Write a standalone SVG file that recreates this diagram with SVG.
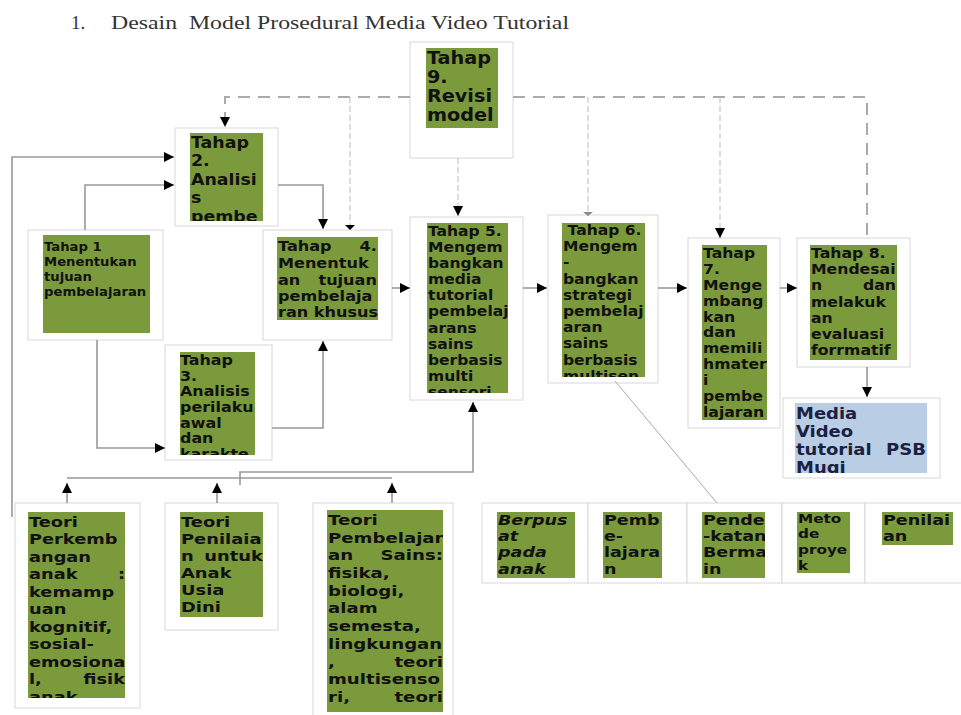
<svg xmlns="http://www.w3.org/2000/svg" width="961" height="715" viewBox="0 0 961 715">
<style>
.ob{fill:#fff;stroke:#d8d8d8;stroke-width:1}
.gr{fill:#7a9a3c}
.bl{fill:#b9cde5}
.t{font-family:"DejaVu Sans","Noto Sans",sans-serif;font-weight:bold;fill:#111}
.it{font-style:italic}
.cn{fill:none;stroke:#999;stroke-width:1.6}
.ds{fill:none;stroke:#aaa;stroke-width:2;stroke-dasharray:12 8}
.th{fill:none;stroke:#bbb;stroke-width:1;stroke-dasharray:6 3}
.title{font-family:"Liberation Serif","Times New Roman",serif;font-size:19px;fill:#333}
</style>
<defs>
<marker id="ah" viewBox="0 0 10 10" refX="10" refY="5" markerWidth="10" markerHeight="10" markerUnits="userSpaceOnUse" orient="auto"><path d="M0,0 L10,5 L0,10 z" fill="#000"/></marker>
<clipPath id="k9"><rect x="426" y="48" width="72" height="80"/></clipPath>
<clipPath id="k2"><rect x="190" y="133" width="73" height="88"/></clipPath>
<clipPath id="k1"><rect x="43" y="235" width="107" height="98"/></clipPath>
<clipPath id="k4"><rect x="277" y="237" width="101" height="83"/></clipPath>
<clipPath id="k3"><rect x="180" y="352" width="75" height="103"/></clipPath>
<clipPath id="k5"><rect x="427" y="223" width="81" height="170"/></clipPath>
<clipPath id="k6"><rect x="562" y="223" width="83" height="154"/></clipPath>
<clipPath id="k7"><rect x="702" y="245" width="65" height="175"/></clipPath>
<clipPath id="k8"><rect x="810" y="245" width="87" height="115"/></clipPath>
<clipPath id="km"><rect x="795" y="403" width="132" height="70"/></clipPath>
<clipPath id="kp1"><rect x="28" y="512" width="97" height="186"/></clipPath>
<clipPath id="kp2"><rect x="180" y="512" width="83" height="105"/></clipPath>
<clipPath id="kp3"><rect x="327" y="510" width="116" height="202"/></clipPath>
<clipPath id="kb1"><rect x="497" y="512" width="78" height="66"/></clipPath>
<clipPath id="kb2"><rect x="603" y="512" width="59" height="66"/></clipPath>
<clipPath id="kb3"><rect x="702" y="512" width="63" height="66"/></clipPath>
<clipPath id="kb4"><rect x="797" y="512" width="53" height="61"/></clipPath>
<clipPath id="kb5"><rect x="882" y="512" width="71" height="33"/></clipPath>
</defs>
<rect width="961" height="715" fill="#fff"/>

<g id="title">
<text class="title" x="71" y="29">1.</text>
<text class="title" x="111" y="29" xml:space="preserve" textLength="458" lengthAdjust="spacingAndGlyphs">Desain  Model Prosedural Media Video Tutorial</text>
</g>

<g id="tahap9">
<rect class="ob" x="410" y="42" width="103" height="116"/>
<rect class="gr" x="426" y="48" width="72" height="80"/>
<g clip-path="url(#k9)"><text class="t" font-size="17.5" transform="matrix(1.1 0 0 1 -42.7 0)"><tspan x="427" y="64">Tahap</tspan><tspan x="427" y="83">9.</tspan><tspan x="427" y="102">Revisi</tspan><tspan x="427" y="121">model</tspan></text></g>
</g>

<g id="tahap2">
<rect class="ob" x="175" y="128" width="103" height="98"/>
<rect class="gr" x="190" y="133" width="73" height="88"/>
<g clip-path="url(#k2)"><text class="t" font-size="15" transform="matrix(1.16 0 0 1 -30.56 0)"><tspan x="191" y="148">Tahap</tspan><tspan x="191" y="166.5">2.</tspan><tspan x="191" y="185">Analisi</tspan><tspan x="191" y="203.5">s</tspan><tspan x="191" y="222">pembe</tspan></text></g>
</g>

<g id="tahap1">
<rect class="ob" x="28" y="230" width="135" height="110"/>
<rect class="gr" x="43" y="235" width="107" height="98"/>
<g clip-path="url(#k1)"><text class="t" font-size="12" transform="matrix(1.1 0 0 1 -4.4 0)"><tspan x="44" y="251">Tahap 1</tspan><tspan x="44" y="266">Menentukan</tspan><tspan x="44" y="281">tujuan</tspan><tspan x="44" y="296">pembelajaran</tspan></text></g>
</g>

<g id="tahap4">
<rect class="ob" x="263" y="230" width="129" height="110"/>
<rect class="gr" x="277" y="237" width="101" height="83"/>
<g clip-path="url(#k4)"><text class="t" font-size="14" transform="matrix(1.15 0 0 1 -41.7 0)"><tspan x="278" y="251">Tahap</tspan><tspan x="278" y="268">Menentuk</tspan><tspan x="278" y="285">an</tspan><tspan x="278" y="301">pembelaja</tspan><tspan x="278" y="317">ran khusus</tspan></text>
<text class="t" font-size="14" text-anchor="end" transform="matrix(1.15 0 0 1 -41.7 0)"><tspan x="364" y="251">4.</tspan><tspan x="364" y="285">tujuan</tspan></text></g>
</g>

<g id="tahap3">
<rect class="ob" x="165" y="345" width="107" height="115"/>
<rect class="gr" x="180" y="352" width="75" height="103"/>
<g clip-path="url(#k3)"><text class="t" font-size="13.5" transform="matrix(1.18 0 0 1 -32.4 0)"><tspan x="180" y="365">Tahap</tspan><tspan x="180" y="380.7">3.</tspan><tspan x="180" y="396.4">Analisis</tspan><tspan x="180" y="412.1">perilaku</tspan><tspan x="180" y="427.8">awal</tspan><tspan x="180" y="443.5">dan</tspan><tspan x="180" y="459.2">karakte</tspan></text></g>
</g>

<g id="tahap5">
<rect class="ob" x="410" y="217" width="113" height="183"/>
<rect class="gr" x="427" y="223" width="81" height="170"/>
<g clip-path="url(#k5)"><text class="t" font-size="13.5" transform="matrix(1.15 0 0 1 -64.2 0)"><tspan x="428" y="236">Tahap 5.</tspan><tspan x="428" y="252.1">Mengem</tspan><tspan x="428" y="268.2">bangkan</tspan><tspan x="428" y="284.3">media</tspan><tspan x="428" y="300.4">tutorial</tspan><tspan x="428" y="316.5">pembelaj</tspan><tspan x="428" y="332.6">arans</tspan><tspan x="428" y="348.7">sains</tspan><tspan x="428" y="364.8">berbasis</tspan><tspan x="428" y="380.9">multi</tspan><tspan x="428" y="397">sensori</tspan></text></g>
</g>

<g id="tahap6">
<rect class="ob" x="548" y="215" width="110" height="168"/>
<rect class="gr" x="562" y="223" width="83" height="154"/>
<g clip-path="url(#k6)"><text class="t" font-size="13.5" transform="matrix(1.15 0 0 1 -84.45 0)"><tspan x="567" y="235">Tahap 6.</tspan><tspan x="563" y="251.2">Mengem</tspan><tspan x="563" y="267.4">-</tspan><tspan x="563" y="283.6">bangkan</tspan><tspan x="563" y="299.8">strategi</tspan><tspan x="563" y="316">pembelaj</tspan><tspan x="563" y="332.2">aran</tspan><tspan x="563" y="348.4">sains</tspan><tspan x="563" y="364.6">berbasis</tspan><tspan x="563" y="380.8">multisen</tspan></text></g>
</g>

<g id="tahap7">
<rect class="ob" x="688" y="238" width="92" height="190"/>
<rect class="gr" x="702" y="245" width="65" height="175"/>
<g clip-path="url(#k7)"><text class="t" font-size="13.5" transform="matrix(1.16 0 0 1 -112.48 0)"><tspan x="703" y="258">Tahap</tspan><tspan x="703" y="273.9">7.</tspan><tspan x="703" y="289.8">Menge</tspan><tspan x="703" y="305.7">mbang</tspan><tspan x="703" y="321.6">kan</tspan><tspan x="703" y="337.5">dan</tspan><tspan x="703" y="353.4">memili</tspan><tspan x="703" y="369.3">hmater</tspan><tspan x="703" y="385.2">i</tspan><tspan x="703" y="401.1">pembe</tspan><tspan x="703" y="417">lajaran</tspan></text></g>
</g>

<g id="tahap8">
<rect class="ob" x="797" y="238" width="113" height="129"/>
<rect class="gr" x="810" y="245" width="87" height="115"/>
<g clip-path="url(#k8)"><text class="t" font-size="14" transform="matrix(1.12 0 0 1 -97.32 0)"><tspan x="811" y="258">Tahap 8.</tspan><tspan x="811" y="274.2">Mendesai</tspan><tspan x="811" y="290.4">n</tspan><tspan x="811" y="306.6">melakuk</tspan><tspan x="811" y="322.8">an</tspan><tspan x="811" y="339">evaluasi</tspan><tspan x="811" y="355.2">forrmatif</tspan></text>
<text class="t" font-size="14" text-anchor="end" transform="matrix(1.12 0 0 1 -97.32 0)"><tspan x="886.9" y="290.4">dan</tspan></text></g>
</g>

<g id="media">
<rect class="ob" x="783" y="398" width="157" height="80"/>
<rect class="bl" x="795" y="403" width="132" height="70"/>
<g clip-path="url(#km)"><text class="t" font-size="15" style="fill:#1b2140" transform="matrix(1.2 0 0 1 -159.2 0)"><tspan x="796" y="419">Media</tspan><tspan x="796" y="437">Video</tspan><tspan x="796" y="455">tutorial</tspan><tspan x="796" y="473">Mugi</tspan></text>
<text class="t" font-size="15" style="fill:#1b2140" text-anchor="end" transform="matrix(1.2 0 0 1 -159.2 0)"><tspan x="904.3" y="455">PSB</tspan></text></g>
</g>

<g id="teori-perkembangan">
<rect class="ob" x="15" y="503" width="125" height="205"/>
<rect class="gr" x="28" y="512" width="97" height="186"/>
<g clip-path="url(#kp1)"><text class="t" font-size="14" transform="matrix(1.27 0 0 1 -7.83 0)"><tspan x="29" y="527">Teori</tspan><tspan x="29" y="544.5">Perkemb</tspan><tspan x="29" y="562">angan</tspan><tspan x="29" y="579.5">anak</tspan><tspan x="29" y="597">kemamp</tspan><tspan x="29" y="614.5">uan</tspan><tspan x="29" y="632">kognitif,</tspan><tspan x="29" y="649.5">sosial-</tspan><tspan x="29" y="667">emosiona</tspan><tspan x="29" y="684.5">l,</tspan><tspan x="29" y="702">anak</tspan></text>
<text class="t" font-size="14" text-anchor="end" transform="matrix(1.27 0 0 1 -7.83 0)"><tspan x="104.6" y="579.5">:</tspan><tspan x="104.6" y="684.5">fisik</tspan></text></g>
</g>

<g id="teori-penilaian">
<rect class="ob" x="165" y="503" width="113" height="127"/>
<rect class="gr" x="180" y="512" width="83" height="105"/>
<g clip-path="url(#kp2)"><text class="t" font-size="14" transform="matrix(1.28 0 0 1 -50.68 0)"><tspan x="181" y="527">Teori</tspan><tspan x="181" y="544">Penilaia</tspan><tspan x="181" y="561">n</tspan><tspan x="181" y="578">Anak</tspan><tspan x="181" y="595">Usia</tspan><tspan x="181" y="612">Dini</tspan></text>
<text class="t" font-size="14" text-anchor="end" transform="matrix(1.28 0 0 1 -50.68 0)"><tspan x="245.06" y="561">untuk</tspan></text></g>
</g>

<g id="teori-pembelajaran">
<rect class="ob" x="313" y="503" width="140" height="215"/>
<rect class="gr" x="327" y="510" width="116" height="202"/>
<g clip-path="url(#kp3)"><text class="t" font-size="14.5" transform="matrix(1.25 0 0 1 -82 0)"><tspan x="328" y="525">Teori</tspan><tspan x="328" y="542.7">Pembelajar</tspan><tspan x="328" y="560.4">an</tspan><tspan x="328" y="578.1">fisika,</tspan><tspan x="328" y="595.8">biologi,</tspan><tspan x="328" y="613.5">alam</tspan><tspan x="328" y="631.2">semesta,</tspan><tspan x="328" y="648.9">lingkungan</tspan><tspan x="328" y="666.6">,</tspan><tspan x="328" y="684.3">multisenso</tspan><tspan x="328" y="702">ri,</tspan></text>
<text class="t" font-size="14.5" text-anchor="end" transform="matrix(1.25 0 0 1 -82 0)"><tspan x="420" y="560.4">Sains:</tspan><tspan x="420" y="666.6">teori</tspan><tspan x="420" y="702">teori</tspan></text></g>
</g>

<g id="berpusat">
<rect class="ob" x="482" y="503" width="106" height="80"/>
<rect class="gr" x="497" y="512" width="78" height="66"/>
<g clip-path="url(#kb1)"><text class="t it" font-size="13.5" transform="matrix(1.3 0 0 1 -149.4 0)"><tspan x="498" y="525">Berpus</tspan><tspan x="498" y="541">at</tspan><tspan x="498" y="557">pada</tspan><tspan x="498" y="574">anak</tspan></text></g>
</g>

<g id="pembelajaran">
<rect class="ob" x="588" y="503" width="99" height="80"/>
<rect class="gr" x="603" y="512" width="59" height="66"/>
<g clip-path="url(#kb2)"><text class="t" font-size="13.5" transform="matrix(1.3 0 0 1 -181.2 0)"><tspan x="604" y="525">Pemb</tspan><tspan x="604" y="541">e-</tspan><tspan x="604" y="557">lajara</tspan><tspan x="604" y="574">n</tspan></text></g>
</g>

<g id="pendekatan">
<rect class="ob" x="687" y="503" width="95" height="80"/>
<rect class="gr" x="702" y="512" width="63" height="66"/>
<g clip-path="url(#kb3)"><text class="t" font-size="13.5" transform="matrix(1.3 0 0 1 -210.9 0)"><tspan x="703" y="525">Pende</tspan><tspan x="703" y="541">-katan</tspan><tspan x="703" y="557">Berma</tspan><tspan x="703" y="574">in</tspan></text></g>
</g>

<g id="metode">
<rect class="ob" x="782" y="503" width="83" height="80"/>
<rect class="gr" x="797" y="512" width="53" height="61"/>
<g clip-path="url(#kb4)"><text class="t" font-size="12.5" transform="matrix(1.22 0 0 1 -175.56 0)"><tspan x="798" y="523">Meto</tspan><tspan x="798" y="538">de</tspan><tspan x="798" y="554">proye</tspan><tspan x="798" y="570">k</tspan></text></g>
</g>

<g id="penilaian">
<rect class="ob" x="865" y="503" width="100" height="80"/>
<rect class="gr" x="882" y="512" width="71" height="33"/>
<g clip-path="url(#kb5)"><text class="t" font-size="13.5" transform="matrix(1.3 0 0 1 -264.9 0)"><tspan x="883" y="525">Penilai</tspan><tspan x="883" y="541">an</tspan></text></g>
</g>

<g id="connectors">
<path class="cn" d="M12,517 V157 H174" marker-end="url(#ah)"/>
<path class="cn" d="M85,230 V185 H174" marker-end="url(#ah)"/>
<path class="cn" d="M278,185 H323 V229" marker-end="url(#ah)"/>
<path class="cn" d="M97,340 V448 H165" marker-end="url(#ah)"/>
<path class="cn" d="M272,428 H323 V341" marker-end="url(#ah)"/>
<path class="cn" d="M392,288 H410" marker-end="url(#ah)"/>
<path class="cn" d="M523,288 H547" marker-end="url(#ah)"/>
<path class="cn" d="M658,288 H687" marker-end="url(#ah)"/>
<path class="cn" d="M780,288 H797" marker-end="url(#ah)"/>
<path class="cn" d="M867,367 V397" marker-end="url(#ah)"/>
<path class="cn" d="M240,485 V472 H473 V402" marker-end="url(#ah)"/>
<path class="cn" d="M67,478 H392"/>
<path class="cn" d="M67,503 V483" marker-end="url(#ah)"/>
<path class="cn" d="M217,503 V483" marker-end="url(#ah)"/>
<path class="cn" d="M392,503 V483" marker-end="url(#ah)"/>
<path fill="none" stroke="#aaa" stroke-width="1" d="M615,381 L717,503"/>
<path class="ds" d="M410,97 H225 V127" marker-end="url(#ah)"/>
<path class="ds" d="M513,97 H867 V238"/>
<path class="th" d="M350,97 V226"/>
<polygon points="345,225 355,225 350,230" fill="#000"/>
<path class="th" d="M458,158 V216" marker-end="url(#ah)"/>
<path class="th" d="M588,97 V213"/>
<polygon points="583,212 593,212 588,216" fill="#888"/>
<path class="th" d="M720,97 V238" marker-end="url(#ah)"/>
</g>
</svg>
